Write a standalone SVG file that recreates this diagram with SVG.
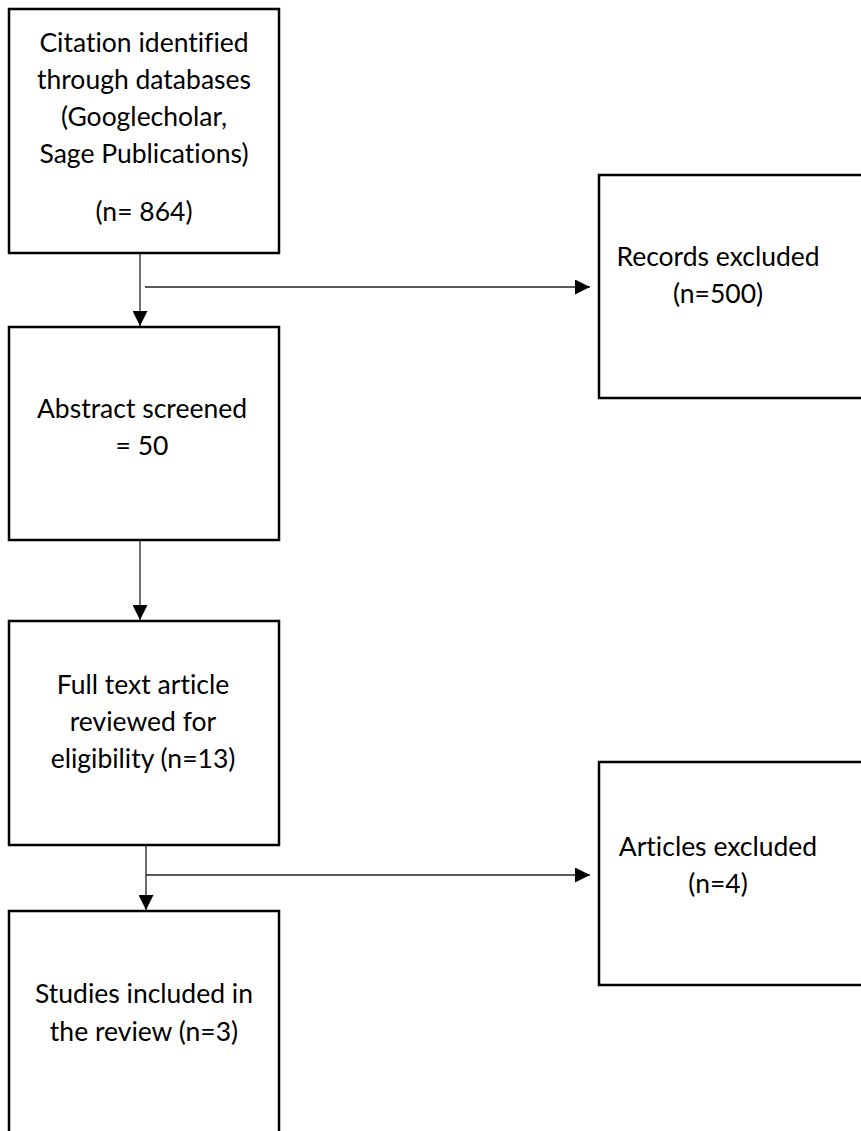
<svg xmlns="http://www.w3.org/2000/svg" width="861" height="1131" viewBox="0 0 861 1131">
<style>
.box{fill:#fff;stroke:#000;stroke-width:2.5}
.t{font-family:Lato,"Open Sans","Liberation Sans",sans-serif;font-size:26.5px;fill:#000;text-anchor:middle;font-variant-ligatures:none}
.c{fill:none;stroke:#222;stroke-width:1.3}
</style>
<defs>
<marker id="ah" viewBox="0 0 10 10" refX="10" refY="5" markerWidth="15" markerHeight="15" markerUnits="userSpaceOnUse" orient="auto">
<path d="M0,0 L10,5 L0,10 Z" fill="#000"/>
</marker>
</defs>
<g id="connectors">
<line class="c" x1="140" y1="253" x2="140" y2="326" marker-end="url(#ah)"/>
<line class="c" x1="145" y1="287" x2="590" y2="287" marker-end="url(#ah)"/>
<line class="c" x1="140" y1="540" x2="140" y2="620" marker-end="url(#ah)"/>
<line class="c" x1="146" y1="837" x2="146" y2="910" marker-end="url(#ah)"/>
<line class="c" x1="146" y1="875" x2="590" y2="875" marker-end="url(#ah)"/>
</g>
<g id="n1">
<rect class="box" x="9" y="9" width="270" height="244"/>
<text class="t" x="144" y="52">Citation identified</text>
<text class="t" x="144" y="89">through databases</text>
<text class="t" x="144" y="126">(Googlecholar,</text>
<text class="t" x="144" y="163">Sage Publications)</text>
<text class="t" x="144" y="221">(n= 864)</text>
</g>
<g id="n2">
<rect class="box" x="599" y="175" width="270" height="223"/>
<text class="t" x="718" y="266">Records excluded</text>
<text class="t" x="718" y="303">(n=500)</text>
</g>
<g id="n3">
<rect class="box" x="9" y="327" width="270" height="213"/>
<text class="t" x="142" y="418">Abstract screened</text>
<text class="t" x="142" y="455">= 50</text>
</g>
<g id="n4">
<rect class="box" x="9" y="621" width="270" height="224"/>
<text class="t" x="143" y="694">Full text article</text>
<text class="t" x="143" y="731">reviewed for</text>
<text class="t" x="143" y="768">eligibility (n=13)</text>
</g>
<g id="n5">
<rect class="box" x="599" y="762" width="270" height="223"/>
<text class="t" x="718" y="856">Articles excluded</text>
<text class="t" x="718" y="893">(n=4)</text>
</g>
<g id="n6">
<rect class="box" x="9" y="911" width="270" height="240"/>
<text class="t" x="144" y="1003">Studies included in</text>
<text class="t" x="144" y="1041">the review (n=3)</text>
</g>
</svg>
